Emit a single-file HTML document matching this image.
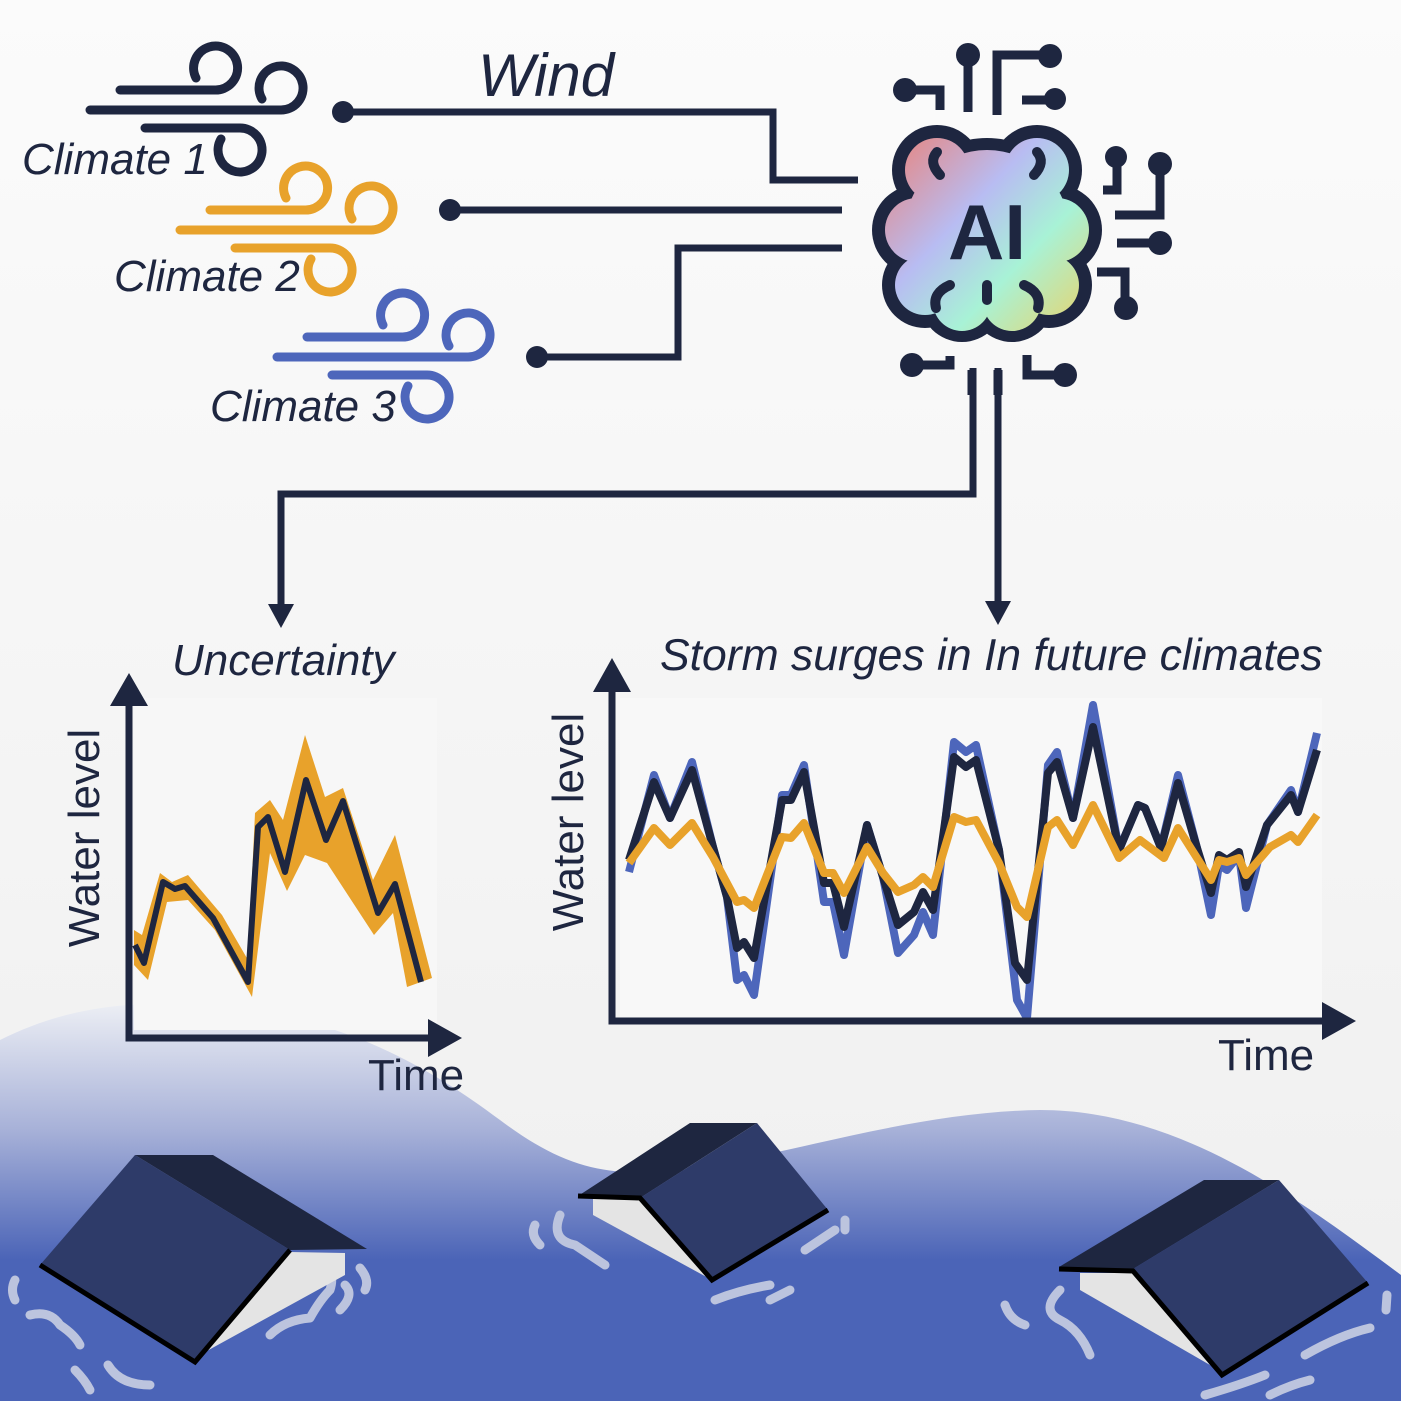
<!DOCTYPE html>
<html><head><meta charset="utf-8"><style>
html,body{margin:0;padding:0;background:#f3f3f3}
svg{display:block}
text{font-family:"Liberation Sans",sans-serif;fill:#1e2640}
</style></head><body>
<svg width="1401" height="1401" viewBox="0 0 1401 1401" xmlns="http://www.w3.org/2000/svg">
<defs>
<linearGradient id="bg" x1="0" y1="0" x2="0" y2="1"><stop offset="0" stop-color="#fbfbfb"/><stop offset="1" stop-color="#efefef"/></linearGradient>
<linearGradient id="wat" x1="0" y1="1000" x2="0" y2="1260" gradientUnits="userSpaceOnUse"><stop offset="0" stop-color="#eef0f5"/><stop offset="0.5" stop-color="#a7b1d8"/><stop offset="1" stop-color="#4b64b7"/></linearGradient>
<linearGradient id="ai" x1="880" y1="130" x2="1095" y2="335" gradientUnits="userSpaceOnUse"><stop offset="0" stop-color="#ef7d6e"/><stop offset="0.4" stop-color="#b8bcf2"/><stop offset="0.65" stop-color="#a8f2d6"/><stop offset="1" stop-color="#f0cf60"/></linearGradient>
</defs>
<rect width="1401" height="1401" fill="url(#bg)"/>

<path d="M0 1040 C60 1010 120 1000 200 1005 C330 1012 420 1060 500 1120 C560 1165 600 1175 660 1172 C760 1165 900 1112 1040 1110 C1180 1110 1300 1200 1401 1275 L1401 1401 L0 1401 Z" fill="url(#wat)"/>

<g fill="none" stroke-width="9" stroke-linecap="round">
<g stroke="#1e2640">
<path d="M120 90 H215 A22 22 0 1 0 196 78"/><path d="M90 110 H281 A22 22 0 1 0 262 99"/><path d="M145 128 H240 A22 22 0 1 1 221 139"/>
</g>
<g stroke="#e8a22b" transform="translate(90,120)">
<path d="M120 90 H215 A22 22 0 1 0 196 78"/><path d="M90 110 H281 A22 22 0 1 0 262 99"/><path d="M145 128 H240 A22 22 0 1 1 221 139"/>
</g>
<g stroke="#4d66bb" transform="translate(187,247)">
<path d="M120 90 H215 A22 22 0 1 0 196 78"/><path d="M90 110 H281 A22 22 0 1 0 262 99"/><path d="M145 128 H240 A22 22 0 1 1 221 139"/>
</g>
</g>
<text x="22" y="174" font-size="44" font-style="italic">Climate 1</text>
<text x="114" y="291" font-size="44" font-style="italic">Climate 2</text>
<text x="210" y="421" font-size="44" font-style="italic">Climate 3</text>
<text x="478" y="96" font-size="60" font-style="italic">Wind</text>

<g fill="none" stroke="#1e2640" stroke-width="7">
<path d="M343 112 H773 V180 H858"/>
<path d="M450 210 H842"/>
<path d="M537 357 H678 V248 H842"/>
<path d="M973 368 V494 H281 V610"/>
<path d="M998 368 V606"/>
</g>
<g fill="#1e2640">
<circle cx="343" cy="112" r="11"/><circle cx="450" cy="210" r="11"/><circle cx="537" cy="357" r="11"/>
<path d="M268 604 L294 604 L281 628 Z"/><path d="M985 601 L1011 601 L998 625 Z"/>
</g>

<g fill="none" stroke="#1e2640" stroke-width="9">
<path d="M968 55 V112"/><path d="M997 115 V55 H1048"/><path d="M1022 100 H1052"/>
<path d="M905 90 H940 V110"/>
<path d="M1117 158 V190 H1103"/><path d="M1160 165 V215 H1115"/><path d="M1160 243 H1117"/><path d="M1097 272 H1125 V308"/>
<path d="M912 365 H950 V356"/><path d="M1027 355 V375 H1065"/>
<path d="M972 370 V395"/><path d="M998 370 V395"/>
</g>
<g fill="#1e2640">
<circle cx="968" cy="55" r="12"/><circle cx="1050" cy="56" r="12"/><circle cx="1055" cy="99" r="11"/><circle cx="905" cy="90" r="12"/>
<circle cx="1116" cy="157" r="11"/><circle cx="1160" cy="164" r="12"/><circle cx="1160" cy="243" r="12"/><circle cx="1126" cy="308" r="12"/>
<circle cx="912" cy="365" r="12"/><circle cx="1065" cy="375" r="12"/>
</g>

<g fill="#1e2640">
<circle cx="987" cy="233" r="95"/>
<circle cx="937" cy="170" r="45"/><circle cx="1037" cy="170" r="45"/>
<circle cx="917" cy="230" r="45"/><circle cx="1057" cy="230" r="45"/>
<circle cx="925" cy="285" r="43"/><circle cx="1049" cy="285" r="43"/>
<circle cx="962" cy="300" r="42"/><circle cx="1012" cy="300" r="42"/>
</g>
<g fill="url(#ai)">
<circle cx="987" cy="233" r="83"/>
<circle cx="937" cy="170" r="32"/><circle cx="1037" cy="170" r="32"/>
<circle cx="917" cy="230" r="32"/><circle cx="1057" cy="230" r="32"/>
<circle cx="925" cy="285" r="30"/><circle cx="1049" cy="285" r="30"/>
<circle cx="962" cy="302" r="29"/><circle cx="1012" cy="302" r="29"/>
</g>
<g fill="none" stroke="#1e2640" stroke-width="10" stroke-linecap="round">
<path d="M940 175 Q928 162 937 152"/><path d="M1034 175 Q1046 162 1037 152"/>
<path d="M950 285 Q932 293 936 308"/><path d="M1024 285 Q1042 293 1038 308"/>
<path d="M987 285 V300"/>
</g>
<text x="987" y="259" font-size="78" font-weight="bold" text-anchor="middle">AI</text>

<rect x="134" y="698" width="303" height="332" fill="#f7f7f7"/>
<path d="M134 930 L142 935 L160 873 L172 882 L188 875 L222 915 L248 960 L255 813 L270 800 L283 820 L305 735 L325 797 L343 788 L373 880 L395 835 L432 978 L407 987 L393 913 L374 935 L327 863 L305 855 L287 891 L270 853 L252 997 L215 930 L188 900 L167 902 L148 980 L134 965 Z" fill="#e8a22b"/>
<polyline points="135,945 144,963 163,882 175,889 185,886 213,918 248,982 258,827 268,817 285,872 306,780 326,840 343,801 378,913 395,884 421,982" fill="none" stroke="#1e2640" stroke-width="6" stroke-linejoin="round"/>
<path d="M129 700 V1038 H432" fill="none" stroke="#1e2640" stroke-width="7"/>
<path d="M110 706 L129 673 L148 706 Z M428 1019 L462 1038 L428 1057 Z" fill="#1e2640"/>
<text x="172" y="675" font-size="44" font-style="italic">Uncertainty</text>
<text transform="translate(99,838) rotate(-90)" font-size="44" text-anchor="middle">Water level</text>
<text x="368" y="1090" font-size="44" fill="#111">Time</text>

<rect x="620" y="698" width="702" height="320" fill="#f8f8f8"/>
<g fill="none" stroke-width="8" stroke-linejoin="round">
<polyline stroke="#4d66bb" points="629,872 654,775 670,818 692,762 713,847 727,897 737,980 744,975 754,995 782,795 791,795 804,765 824,902 833,902 844,955 867,825 883,877 898,953 914,935 923,912 933,935 954,742 966,752 976,745 999,850 1017,1000 1027,1018 1048,765 1057,752 1073,818 1093,705 1119,850 1138,805 1145,808 1161,848 1178,775 1197,848 1211,915 1219,865 1227,870 1239,855 1246,908 1267,825 1291,790 1298,812 1317,733"/>
<polyline stroke="#1e2640" points="629,860 654,782 670,818 692,770 713,847 727,897 737,948 744,942 754,958 782,800 791,800 804,772 824,883 833,883 844,927 867,825 883,877 898,925 914,912 923,892 933,910 954,757 966,767 976,760 999,850 1015,963 1027,980 1048,773 1057,762 1073,818 1093,727 1119,850 1138,805 1145,808 1161,848 1178,783 1197,848 1211,893 1219,855 1227,860 1239,852 1246,887 1267,825 1291,795 1298,812 1317,750"/>
<polyline stroke="#e8a22b" points="629,863 654,828 670,845 692,823 713,857 737,902 744,900 754,908 782,837 791,838 804,823 824,873 833,873 844,893 867,847 883,873 898,892 914,885 923,877 933,887 954,817 966,822 976,820 999,863 1017,907 1027,917 1048,827 1057,820 1073,845 1093,805 1119,858 1140,840 1164,858 1178,828 1211,880 1219,860 1227,862 1239,858 1246,875 1270,847 1291,835 1298,842 1317,815"/>
</g>
<path d="M612 690 V1021 H1325" fill="none" stroke="#1e2640" stroke-width="7"/>
<path d="M593 692 L612 658 L631 692 Z M1322 1002 L1356 1021 L1322 1040 Z" fill="#1e2640"/>
<text x="660" y="670" font-size="44.5" font-style="italic">Storm surges in In future climates</text>
<text transform="translate(583,822) rotate(-90)" font-size="44" text-anchor="middle">Water level</text>
<text x="1218" y="1070" font-size="44" fill="#111">Time</text>

<g fill="none" stroke="#bcc4de" stroke-width="9" stroke-linecap="round" stroke-linejoin="round">
<path d="M15 1280 Q10 1290 15 1300"/><path d="M30 1315 Q50 1310 60 1325 Q75 1335 80 1345"/><path d="M75 1370 Q85 1380 90 1390"/><path d="M108 1365 Q120 1385 150 1385"/>
<path d="M270 1335 Q285 1320 310 1318 Q320 1300 330 1290 Q335 1275 325 1265"/><path d="M345 1285 Q355 1295 340 1310"/><path d="M360 1268 Q370 1280 365 1290"/>
<path d="M535 1225 Q530 1235 540 1245"/><path d="M560 1215 Q550 1240 575 1245 Q590 1255 605 1265"/><path d="M715 1300 Q740 1290 770 1285"/><path d="M770 1300 Q780 1295 790 1290"/><path d="M805 1250 Q820 1240 835 1230"/><path d="M845 1220 L845 1230"/>
<path d="M1005 1305 Q1010 1320 1025 1325"/><path d="M1060 1290 Q1040 1310 1060 1320 Q1080 1330 1090 1355"/><path d="M1205 1395 Q1240 1385 1265 1375"/><path d="M1270 1395 Q1290 1385 1310 1380"/><path d="M1305 1355 Q1340 1335 1370 1328"/><path d="M1387 1295 L1386 1310"/>
</g>

<g>
<path d="M135 1155 L213 1155 L367 1249 L290 1250 Z" fill="#1e2640"/>
<path d="M290 1252 L345 1253 L345 1275 L205 1352 Z" fill="#e4e4e4"/>
<path d="M40 1265 L135 1155 L290 1250 L195 1362 Z" fill="#2e3b69"/>
<path d="M40 1265 L195 1362 L290 1250" fill="none" stroke="#000" stroke-width="5"/>

<path d="M578 1196 L690 1123 L757 1123 L640 1198 Z" fill="#1e2640"/>
<path d="M593 1199 L640 1199 L712 1280 L593 1215 Z" fill="#e4e4e4"/>
<path d="M640 1198 L757 1123 L828 1210 L712 1280 Z" fill="#2e3b69"/>
<path d="M578 1196 L640 1198 L712 1280 L828 1210" fill="none" stroke="#000" stroke-width="5"/>

<path d="M1059 1267 L1204 1180 L1279 1180 L1133 1269 Z" fill="#1e2640"/>
<path d="M1080 1273 L1133 1273 L1210 1365 L1080 1290 Z" fill="#e4e4e4"/>
<path d="M1133 1269 L1279 1180 L1368 1283 L1222 1375 Z" fill="#2e3b69"/>
<path d="M1059 1269 L1133 1271 L1222 1375 L1368 1283" fill="none" stroke="#000" stroke-width="5"/>
</g>
</svg>
</body></html>
